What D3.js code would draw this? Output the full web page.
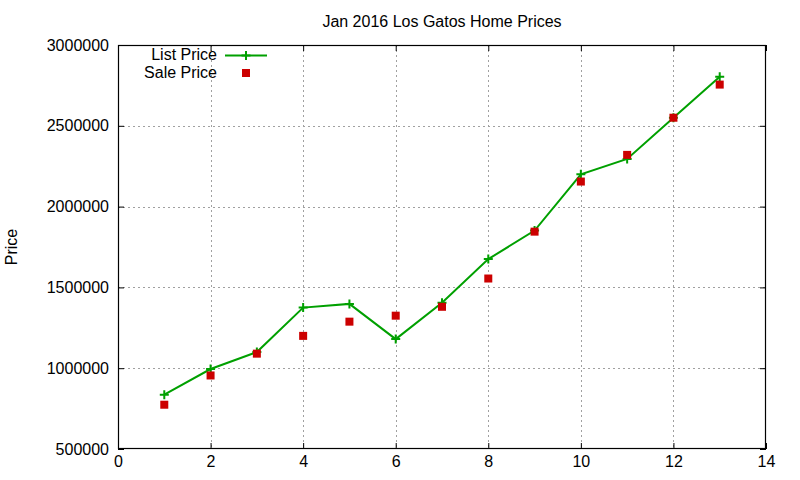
<!DOCTYPE html>
<html><head><meta charset="utf-8">
<script src="https://cdn.jsdelivr.net/npm/d3@7"></script>
<style>
body{margin:0;background:#fff;}
text{font-family:"Liberation Sans",Arial,sans-serif;fill:#000;}
</style></head><body>
<svg id="c" width="800" height="480"></svg>
<script>
const months = [1,2,3,4,5,6,7,8,9,10,11,12,13];
const listPrice = [836000,995000,1100000,1375000,1398000,1180000,1405000,1675000,1852000,2200000,2295000,2550000,2804000];
const salePrice = [774000,955000,1090000,1200000,1288000,1325000,1380000,1555000,1845000,2155000,2320000,2550000,2755000];
const xTicks = [0,2,4,6,8,10,12,14];
const yTicks = [500000,1000000,1500000,2000000,2500000,3000000];
const title = "Jan 2016 Los Gatos Home Prices";
const yLabel = "Price";
const seriesNames = ["List Price","Sale Price"];

const svg = d3.select("#c");
const L=118, R=766, T=45, B=449;
const FS=16;
const x = d3.scaleLinear().domain([0,14]).range([L,R]);
const y = d3.scaleLinear().domain([500000,3000000]).range([B,T]);
const green="#00a000", red="#cc0000";

svg.append("rect").attr("width",800).attr("height",480).attr("fill","#fff");

// grid
const grid = svg.append("g").attr("stroke","#a0a0a0").attr("stroke-width",1).attr("stroke-dasharray","2,3");
xTicks.slice(1,-1).forEach(t=>grid.append("line").attr("x1",Math.round(x(t))+0.5).attr("x2",Math.round(x(t))+0.5).attr("y1",T).attr("y2",B));
yTicks.slice(1,-1).forEach(t=>grid.append("line").attr("x1",L).attr("x2",R).attr("y1",Math.round(y(t))+0.5).attr("y2",Math.round(y(t))+0.5));

// axes
const fmt = d3.format("d");
const ax = svg.append("g").attr("transform",`translate(0,${B})`).call(d3.axisBottom(x).tickValues(xTicks).tickFormat(fmt).tickSize(-6).tickPadding(7));
const axT = svg.append("g").attr("transform",`translate(0,${T})`).call(d3.axisTop(x).tickValues(xTicks).tickFormat("").tickSize(-6));
const ay = svg.append("g").attr("transform",`translate(${L},0)`).call(d3.axisLeft(y).tickValues(yTicks).tickFormat(fmt).tickSize(-6).tickPadding(9));
const ayR = svg.append("g").attr("transform",`translate(${R},0)`).call(d3.axisRight(y).tickValues(yTicks).tickFormat("").tickSize(-6));
[ax,axT,ay,ayR].forEach(g=>{
  g.select(".domain").remove();
  g.selectAll("line").attr("stroke","#000");
  g.selectAll("text").attr("font-size",FS).attr("font-family","Liberation Sans, Arial, sans-serif").attr("fill","#000");
});
svg.append("rect").attr("x",L+0.5).attr("y",T+0.5).attr("width",R-L-1).attr("height",B-T-1).attr("fill","none").attr("stroke","#000").attr("stroke-width",1.2);

// title & label
svg.append("text").attr("x",(L+R)/2).attr("y",27).attr("text-anchor","middle").attr("font-size",FS).text(title);
svg.append("text").attr("transform","translate(17,247) rotate(-90)").attr("text-anchor","middle").attr("font-size",FS).text(yLabel);

// list line
const line = d3.line().x((d,i)=>x(months[i])).y(d=>y(d));
svg.append("path").datum(listPrice).attr("d",line).attr("fill","none").attr("stroke",green).attr("stroke-width",2);
const plus = (g,cx,cy)=>{
  g.append("path").attr("d",`M${cx-4.5},${cy}H${cx+4.5}M${cx},${cy-4.5}V${cy+4.5}`).attr("stroke",green).attr("stroke-width",2);
};
const pg = svg.append("g");
listPrice.forEach((v,i)=>plus(pg,x(months[i]),y(v)));
// sale squares
svg.append("g").selectAll("rect").data(salePrice).join("rect")
  .attr("x",(d,i)=>x(months[i])-4).attr("y",d=>y(d)-4).attr("width",8).attr("height",8).attr("fill",red);

// legend
const lg = svg.append("g");
lg.append("text").attr("x",217).attr("y",60).attr("text-anchor","end").attr("font-size",FS).text(seriesNames[0]);
lg.append("line").attr("x1",225).attr("x2",267).attr("y1",55.5).attr("y2",55.5).attr("stroke",green).attr("stroke-width",2);
plus(lg,246,55.5);
lg.append("text").attr("x",217).attr("y",78).attr("text-anchor","end").attr("font-size",FS).text(seriesNames[1]);
lg.append("rect").attr("x",242).attr("y",69).attr("width",8).attr("height",8).attr("fill",red);
</script></body></html>
